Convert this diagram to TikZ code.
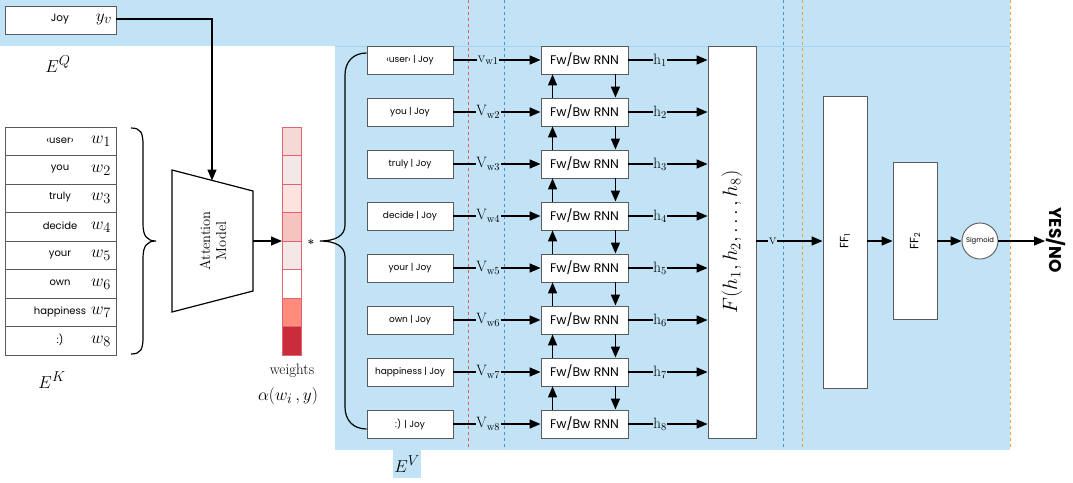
\documentclass[tikz,border=0pt]{standalone}
\usepackage{fontspec}
\usetikzlibrary{arrows.meta,calc}
\newfontfamily\pop{Poppins}
\definecolor{bgblue}{RGB}{193,227,245}
\definecolor{lineblue}{RGB}{165,212,243}
\definecolor{dred}{RGB}{224,85,96}
\definecolor{dblue}{RGB}{58,154,217}
\definecolor{dorange}{RGB}{240,160,64}
\definecolor{boxgray}{RGB}{90,90,90}
\definecolor{barred}{RGB}{222,100,110}
\definecolor{c1}{RGB}{244,217,214}
\definecolor{c2}{RGB}{243,231,231}
\definecolor{c3}{RGB}{253,227,223}
\definecolor{c4}{RGB}{246,195,191}
\definecolor{c5}{RGB}{243,231,231}
\definecolor{c6}{RGB}{255,255,255}
\definecolor{c7}{RGB}{253,140,125}
\definecolor{c8}{RGB}{201,45,59}
\begin{document}
\begin{tikzpicture}[x=1pt,y=-1pt,
  box/.style={draw=boxgray,fill=white,line width=0.9pt,inner sep=0pt},
  wbox/.style={box,minimum width=86pt,minimum height=28pt,font=\pop\fontsize{9}{10}\selectfont},
  rnnbox/.style={box,minimum width=87pt,minimum height=28pt,font=\pop\fontsize{12.5}{14}\selectfont},
  lbox/.style={box,minimum width=111pt,minimum height=28.5pt},
  arr/.style={line width=1.4pt,-{Triangle[length=11pt,width=9pt]}},
  lab/.style={fill=bgblue,inner sep=0.6pt,font=\fontsize{15}{17}\selectfont},
  dline/.style={line width=0.9pt,dash pattern=on 3pt off 3pt},
  cell/.style={draw=barred,line width=0.7pt,minimum width=19pt,minimum height=28.5pt,inner sep=0pt}
]
\useasboundingbox (0,0) rectangle (1073,482);
% backgrounds
\fill[bgblue] (0,0) rectangle (1010,46);
\fill[bgblue] (335,46) rectangle (1010,450);
\fill[bgblue] (393,450) rectangle (421,478);
\draw[lineblue,line width=0.8pt] (335,46) -- (1010,46);
% dashed lines
\draw[dline,dred] (468,0) -- (468,450);
\draw[dline,dblue] (504,0) -- (504,450);
\draw[dline,dblue] (783,0) -- (783,450);
\draw[dline,dorange] (802,0) -- (802,450);
\draw[dline,dorange] (1010,0) -- (1010,450);

% query
\node[box,minimum width=111pt,minimum height=28pt] (q) at (60.5,20) {};
\node[font=\pop\fontsize{10.5}{12}\selectfont] (qt) at (60,19) {Joy};
\node[font=\fontsize{19}{20}\selectfont] (qy) at (104,19) {$y_v$};
\node[font=\fontsize{19}{20}\selectfont] (eq) at (58,64) {$E^Q$};

% key list
\foreach \w [count=\i] in {‹user›,you,truly,decide,your,own,happiness,{:)}} {
  \node[lbox] (k\i) at (60.5,{141.25+28.5*(\i-1)}) {};
  \node[font=\pop\fontsize{10}{11}\selectfont] (kt\i) at (60,{140.5+28.5*(\i-1)}) {\w};
  \node[font=\fontsize{19}{20}\selectfont] (kw\i) at (101,{141.5+28.5*(\i-1)}) {$w_{\i}$};
}
\node[font=\fontsize{19}{20}\selectfont] (ek) at (52,380) {$E^K$};
% brace
\draw[line width=1.2pt] (131,128) .. controls (141,128) and (143,133) .. (143,145)
  -- (143,224) .. controls (143,236) and (147,241) .. (156,241)
  .. controls (147,241) and (143,246) .. (143,258)
  -- (143,337) .. controls (143,349) and (141,354) .. (131,354);

% attention model
\draw[line width=1.2pt,fill=white] (172,170) -- (253,191) -- (253,291) -- (172,312) -- cycle;
\coordinate (attTop) at (212,180.5);
\coordinate (attR) at (253,241);
\node[rotate=90,align=center,font=\fontsize{14.5}{16}\selectfont] (att) at (213,241) {Attention\\Model};
\draw[arr] (qy.east -| q.east) -| (attTop);

% weights bar
\foreach \i in {1,...,8} {
  \node[cell,fill=c\i] (c\i) at (291.5,{141.25+28.5*(\i-1)}) {};
}
\coordinate (barW) at (282,241);
\draw[arr] (attR) -- (barW);
\node[font=\fontsize{15}{17}\selectfont] (wt) at (292,371) {weights};
\node[font=\fontsize{19}{22}\selectfont] (al) at (288,396) {$\alpha(w_i\,,y)$};
\node[font=\bfseries\fontsize{12}{12}\selectfont] (star) at (311,244) {*};

% value boxes and RNNs
\foreach \w [count=\i] in {‹user› | Joy,you | Joy,truly | Joy,decide | Joy,your | Joy,own | Joy,happiness | Joy,{:) | Joy}} {
  \node[wbox] (v\i) at (410,{60+52*(\i-1)}) {\w};
  \node[rnnbox] (r\i) at (584.5,{60+52*(\i-1)}) {Fw/Bw RNN};
}
\draw[arr] (v1.east) -- node[lab,pos=0.4] {$\mathrm{v_{w1}}$} (r1.west);
\foreach \i in {2,...,8} {
  \draw[arr] (v\i.east) -- node[lab,pos=0.4] {$\mathrm{V_{w\i}}$} (r\i.west);
}
\foreach \i [evaluate=\i as \j using int(\i+1)] in {1,...,7} {
  \draw[arr] ([xshift=12pt]r\j.north west) -- ([xshift=12pt]r\i.south west);
  \draw[arr] ([xshift=-13pt]r\i.south east) -- ([xshift=-13pt]r\j.north east);
}
% big brace to value boxes
\coordinate (bt) at (320,241);
\draw[line width=1.2pt] (v1.west |- 0,53) .. controls (353,53) and (345,62) .. (345,75)
  -- (345,225) .. controls (345,236) and (335,241) .. (bt)
  .. controls (335,241) and (345,246) .. (345,257)
  -- (345,407) .. controls (345,420) and (353,429) .. (v8.west |- 0,429);
\node[font=\fontsize{19}{20}\selectfont] (ev) at (407,464) {$E^V$};

% F box
\node[box,minimum width=48pt,minimum height=392pt] (F) at (732,242) {};
\node[rotate=90,font=\fontsize{21}{24}\selectfont] (Ft) at (732,242) {$F(h_1, h_2, \ldots, h_8)$};
\foreach \i in {1,...,8} {
  \draw[arr] (r\i.east) -- node[lab,pos=0.4] {$\mathrm{h_{\i}}$} (r\i.east -| F.west);
}
% FF layers
\node[box,minimum width=44pt,minimum height=292pt] (ff1) at (845,242) {};
\node[rotate=90,font=\pop\fontsize{12}{14}\selectfont] at (845,241) {FF\textsubscript{1}};
\node[box,minimum width=44pt,minimum height=157pt] (ff2) at (915,240.5) {};
\node[rotate=90,font=\pop\fontsize{12}{14}\selectfont] at (915,241) {FF\textsubscript{2}};
\node[draw=boxgray,fill=white,circle,line width=0.9pt,minimum size=36pt,inner sep=0pt,font=\pop\fontsize{6.8}{8}\selectfont] (sig) at (980,241) {Sigmoid};
\coordinate (Fout) at (756,241);
\draw[arr] (Fout) -- node[lab,pos=0.25] {$\mathrm{v}$} (Fout -| ff1.west);
\draw[arr] (ff1.east |- Fout) -- (ff2.west |- Fout);
\draw[arr] (ff2.east |- Fout) -- (sig.west);
\coordinate (out) at (1045,241);
\draw[arr] (sig.east) -- (out);
\node[rotate=-90,font=\pop\bfseries\fontsize{17}{19}\selectfont] (yn) at (1056,240) {YES/NO};
\end{tikzpicture}
\end{document}
